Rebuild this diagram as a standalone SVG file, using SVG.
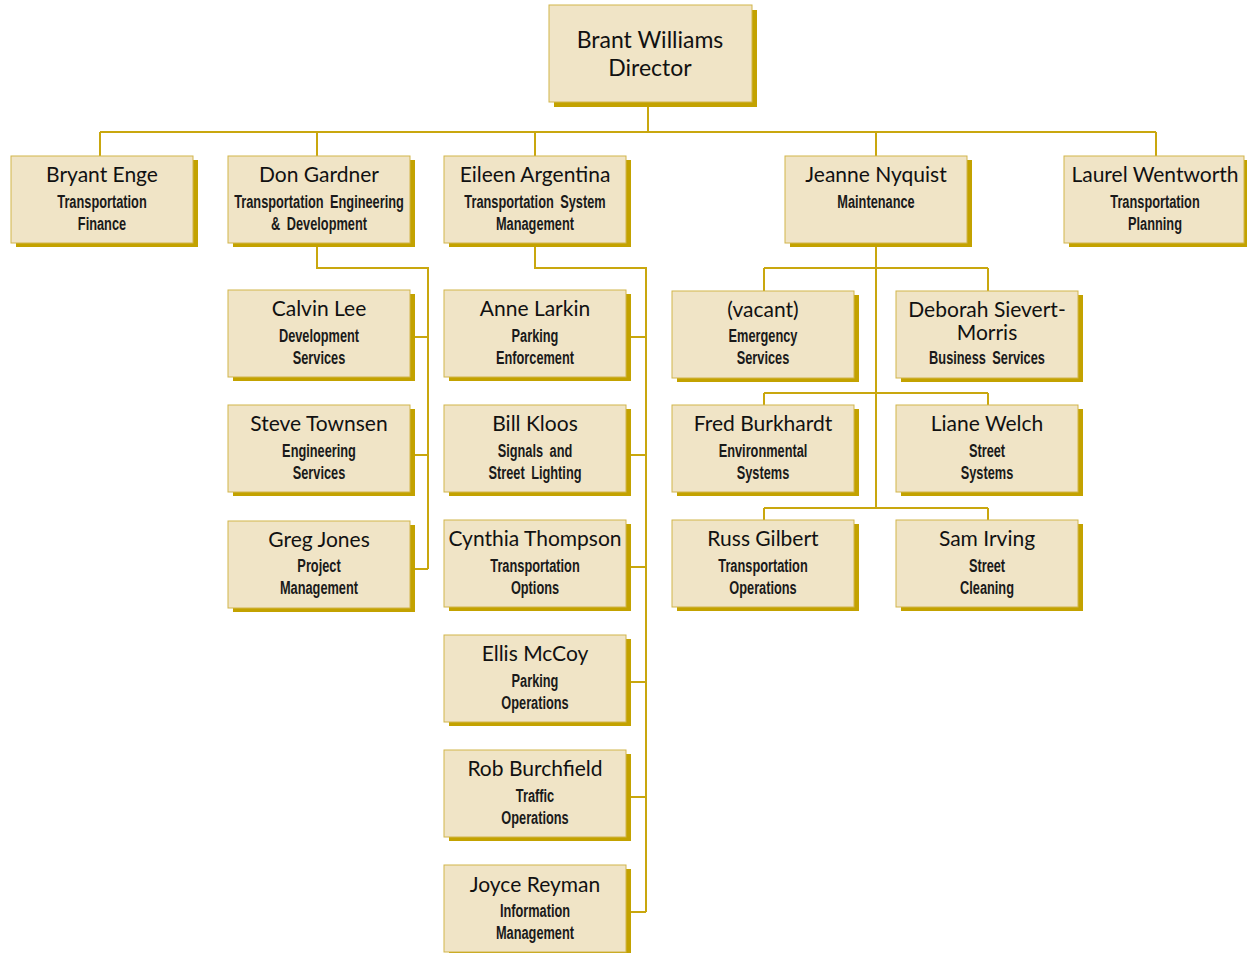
<svg xmlns="http://www.w3.org/2000/svg" width="1247" height="953" viewBox="0 0 1247 953">
<style>
.bg{fill:#ffffff}
.box{fill:#F0E4C6;stroke:#D2B54A;stroke-width:1}
.sh{fill:#C3A200}
.ln{fill:none;stroke:#C9A70E;stroke-width:2}
.nm{font-family:Lato,"Open Sans",sans-serif;font-size:21px;fill:#111;text-anchor:middle}
.dir{font-family:Lato,"Open Sans",sans-serif;font-size:23px;fill:#111;text-anchor:middle}
.sub{font-family:"Liberation Sans",Arial,sans-serif;font-size:17.5px;font-weight:bold;fill:#1a1a1a;text-anchor:middle;word-spacing:4px}
</style>
<rect class="bg" x="0" y="0" width="1247" height="953"/>
<g id="connectors">
<path class="ln" d="M648 102V132M100 132H1156M100 132V156M317 132V156M535 132V156M876 132V156M1156 132V156"/>
<path class="ln" d="M317 243V268H428V569M410 337H428M410 455H428M410 569H428"/>
<path class="ln" d="M535 243V268H646V912M626 337H646M626 455H646M626 567H646M626 682H646M626 797H646M626 912H646"/>
<path class="ln" d="M876 243V508M764 268H988M764 268V291M988 268V291M764 393H988M764 393V405M988 393V405M764 508H988M764 508V520M988 508V520"/>
</g>
<g id="director">
<rect class="sh" x="554" y="10" width="203" height="97"/>
<rect class="box" x="549" y="5" width="203" height="97"/>
<text class="dir" x="650" y="48">Brant Williams</text>
<text class="dir" x="650" y="76">Director</text>
</g>
<g id="bryant">
<rect class="sh" x="16" y="160" width="182" height="87"/>
<rect class="box" x="11" y="156" width="182" height="87"/>
<text class="nm" x="102" y="182">Bryant Enge</text>
<text class="sub" transform="translate(102 208) scale(0.73 1)"><tspan x="0" y="0">Transportation</tspan><tspan x="0" y="22">Finance</tspan></text>
</g>
<g id="don">
<rect class="sh" x="233" y="160" width="182" height="87"/>
<rect class="box" x="228" y="156" width="182" height="87"/>
<text class="nm" x="319" y="182">Don Gardner</text>
<text class="sub" transform="translate(319 208) scale(0.73 1)"><tspan x="0" y="0">Transportation Engineering</tspan><tspan x="0" y="22">&amp; Development</tspan></text>
</g>
<g id="eileen">
<rect class="sh" x="449" y="160" width="182" height="87"/>
<rect class="box" x="444" y="156" width="182" height="87"/>
<text class="nm" x="535" y="182">Eileen Argentina</text>
<text class="sub" transform="translate(535 208) scale(0.73 1)"><tspan x="0" y="0">Transportation System</tspan><tspan x="0" y="22">Management</tspan></text>
</g>
<g id="jeanne">
<rect class="sh" x="790" y="160" width="182" height="87"/>
<rect class="box" x="785" y="156" width="182" height="87"/>
<text class="nm" x="876" y="182">Jeanne Nyquist</text>
<text class="sub" transform="translate(876 208) scale(0.73 1)"><tspan x="0" y="0">Maintenance</tspan></text>
</g>
<g id="laurel">
<rect class="sh" x="1069" y="160" width="180" height="87"/>
<rect class="box" x="1064" y="156" width="180" height="87"/>
<text class="nm" x="1155" y="182">Laurel Wentworth</text>
<text class="sub" transform="translate(1155 208) scale(0.73 1)"><tspan x="0" y="0">Transportation</tspan><tspan x="0" y="22">Planning</tspan></text>
</g>
<g id="calvin">
<rect class="sh" x="233" y="294" width="182" height="87"/>
<rect class="box" x="228" y="290" width="182" height="87"/>
<text class="nm" x="319" y="316">Calvin Lee</text>
<text class="sub" transform="translate(319 342) scale(0.73 1)"><tspan x="0" y="0">Development</tspan><tspan x="0" y="22">Services</tspan></text>
</g>
<g id="steve">
<rect class="sh" x="233" y="409" width="182" height="87"/>
<rect class="box" x="228" y="405" width="182" height="87"/>
<text class="nm" x="319" y="431">Steve Townsen</text>
<text class="sub" transform="translate(319 457) scale(0.73 1)"><tspan x="0" y="0">Engineering</tspan><tspan x="0" y="22">Services</tspan></text>
</g>
<g id="greg">
<rect class="sh" x="233" y="525" width="182" height="87"/>
<rect class="box" x="228" y="521" width="182" height="87"/>
<text class="nm" x="319" y="547">Greg Jones</text>
<text class="sub" transform="translate(319 572) scale(0.73 1)"><tspan x="0" y="0">Project</tspan><tspan x="0" y="22">Management</tspan></text>
</g>
<g id="anne">
<rect class="sh" x="449" y="294" width="182" height="87"/>
<rect class="box" x="444" y="290" width="182" height="87"/>
<text class="nm" x="535" y="316">Anne Larkin</text>
<text class="sub" transform="translate(535 342) scale(0.73 1)"><tspan x="0" y="0">Parking</tspan><tspan x="0" y="22">Enforcement</tspan></text>
</g>
<g id="bill">
<rect class="sh" x="449" y="409" width="182" height="87"/>
<rect class="box" x="444" y="405" width="182" height="87"/>
<text class="nm" x="535" y="431">Bill Kloos</text>
<text class="sub" transform="translate(535 457) scale(0.73 1)"><tspan x="0" y="0">Signals and</tspan><tspan x="0" y="22">Street Lighting</tspan></text>
</g>
<g id="cynthia">
<rect class="sh" x="449" y="524" width="182" height="87"/>
<rect class="box" x="444" y="520" width="182" height="87"/>
<text class="nm" x="535" y="546">Cynthia Thompson</text>
<text class="sub" transform="translate(535 572) scale(0.73 1)"><tspan x="0" y="0">Transportation</tspan><tspan x="0" y="22">Options</tspan></text>
</g>
<g id="ellis">
<rect class="sh" x="449" y="639" width="182" height="87"/>
<rect class="box" x="444" y="635" width="182" height="87"/>
<text class="nm" x="535" y="661">Ellis McCoy</text>
<text class="sub" transform="translate(535 687) scale(0.73 1)"><tspan x="0" y="0">Parking</tspan><tspan x="0" y="22">Operations</tspan></text>
</g>
<g id="rob">
<rect class="sh" x="449" y="754" width="182" height="87"/>
<rect class="box" x="444" y="750" width="182" height="87"/>
<text class="nm" x="535" y="776">Rob Burchfield</text>
<text class="sub" transform="translate(535 802) scale(0.73 1)"><tspan x="0" y="0">Traffic</tspan><tspan x="0" y="22">Operations</tspan></text>
</g>
<g id="joyce">
<rect class="sh" x="449" y="869" width="182" height="87"/>
<rect class="box" x="444" y="865" width="182" height="87"/>
<text class="nm" x="535" y="892">Joyce Reyman</text>
<text class="sub" transform="translate(535 917) scale(0.73 1)"><tspan x="0" y="0">Information</tspan><tspan x="0" y="22">Management</tspan></text>
</g>
<g id="vacant">
<rect class="sh" x="677" y="295" width="182" height="87"/>
<rect class="box" x="672" y="291" width="182" height="87"/>
<text class="nm" x="763" y="317">(vacant)</text>
<text class="sub" transform="translate(763 342) scale(0.73 1)"><tspan x="0" y="0">Emergency</tspan><tspan x="0" y="22">Services</tspan></text>
</g>
<g id="deborah">
<rect class="sh" x="901" y="295" width="182" height="87"/>
<rect class="box" x="896" y="291" width="182" height="87"/>
<text class="nm" x="987" y="317">Deborah Sievert-</text>
<text class="nm" x="987" y="340">Morris</text>
<text class="sub" transform="translate(987 364) scale(0.73 1)"><tspan x="0" y="0">Business Services</tspan></text>
</g>
<g id="fred">
<rect class="sh" x="677" y="409" width="182" height="87"/>
<rect class="box" x="672" y="405" width="182" height="87"/>
<text class="nm" x="763" y="431">Fred Burkhardt</text>
<text class="sub" transform="translate(763 457) scale(0.73 1)"><tspan x="0" y="0">Environmental</tspan><tspan x="0" y="22">Systems</tspan></text>
</g>
<g id="liane">
<rect class="sh" x="901" y="409" width="182" height="87"/>
<rect class="box" x="896" y="405" width="182" height="87"/>
<text class="nm" x="987" y="431">Liane Welch</text>
<text class="sub" transform="translate(987 457) scale(0.73 1)"><tspan x="0" y="0">Street</tspan><tspan x="0" y="22">Systems</tspan></text>
</g>
<g id="russ">
<rect class="sh" x="677" y="524" width="182" height="87"/>
<rect class="box" x="672" y="520" width="182" height="87"/>
<text class="nm" x="763" y="546">Russ Gilbert</text>
<text class="sub" transform="translate(763 572) scale(0.73 1)"><tspan x="0" y="0">Transportation</tspan><tspan x="0" y="22">Operations</tspan></text>
</g>
<g id="sam">
<rect class="sh" x="901" y="524" width="182" height="87"/>
<rect class="box" x="896" y="520" width="182" height="87"/>
<text class="nm" x="987" y="546">Sam Irving</text>
<text class="sub" transform="translate(987 572) scale(0.73 1)"><tspan x="0" y="0">Street</tspan><tspan x="0" y="22">Cleaning</tspan></text>
</g>
</svg>
